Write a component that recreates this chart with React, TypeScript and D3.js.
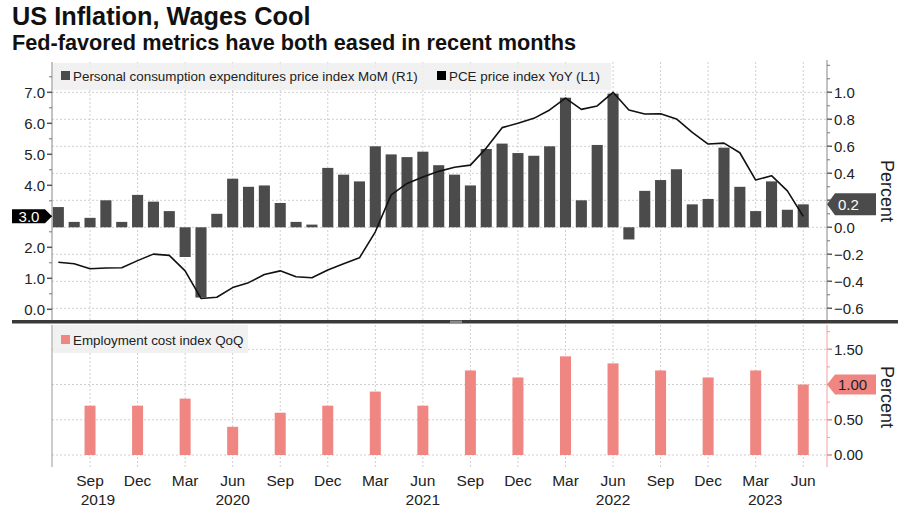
import * as d3 from 'd3';

// monthly categories, Jul 2019 .. Jun 2023
const months = d3
  .timeMonth.range(new Date(2019, 6, 1), new Date(2023, 6, 1))
  .map((d) => d3.timeFormat('%b %Y')(d));

// PCE price index MoM, % (right axis)
const pceMoM = [
  0.15, 0.04, 0.07, 0.2, 0.04, 0.24,
  0.19, 0.12, -0.22, -0.52, 0.1, 0.36, 0.3, 0.31, 0.18, 0.04, 0.02, 0.44,
  0.39, 0.34, 0.6, 0.54, 0.52, 0.56, 0.46, 0.39, 0.31, 0.58, 0.62, 0.55,
  0.53, 0.6, 0.96, 0.2, 0.61, 0.99, -0.09, 0.27, 0.35, 0.43, 0.17, 0.21,
  0.59, 0.3, 0.12, 0.34, 0.13, 0.17,
];

// PCE price index YoY, % (left axis)
const pceYoY = [
  1.52, 1.47, 1.31, 1.33, 1.34, 1.57,
  1.78, 1.74, 1.24, 0.35, 0.39, 0.7, 0.86, 1.12, 1.24, 1.05, 1.02, 1.27,
  1.47, 1.66, 2.5, 3.69, 4.06, 4.27, 4.45, 4.58, 4.65, 5.2, 5.86, 6.0,
  6.16, 6.43, 6.81, 6.45, 6.56, 7.0, 6.43, 6.3, 6.31, 6.14, 5.71, 5.33,
  5.36, 5.05, 4.17, 4.31, 3.82, 3.0,
];

// Employment cost index QoQ, %
const eciQuarters = [
  'Sep 2019', 'Dec 2019', 'Mar 2020', 'Jun 2020', 'Sep 2020', 'Dec 2020',
  'Mar 2021', 'Jun 2021', 'Sep 2021', 'Dec 2021', 'Mar 2022', 'Jun 2022',
  'Sep 2022', 'Dec 2022', 'Mar 2023', 'Jun 2023',
];
const eciQoQ = [0.7, 0.7, 0.8, 0.4, 0.6, 0.7, 0.9, 0.7, 1.2, 1.1, 1.4, 1.3, 1.2, 1.1, 1.2, 1.0];

// year labels sit under these month positions
const yearLabels = [
  { year: '2019', at: 2.5 },
  { year: '2020', at: 11 },
  { year: '2021', at: 23 },
  { year: '2022', at: 35 },
  { year: '2023', at: 44.6 },
];

const font = '"Liberation Sans", Arial, sans-serif';
const barGray = '#4b4b4b';
const pink = '#f08682';
const gridCol = '#cfcfcf';

export default function App() {
  const plotL = 52;
  const plotR = 827;
  const topT = 62;
  const topB = 320;
  const botT = 325;
  const botB = 467;

  const x = d3.scaleLinear().domain([-0.4, 48.5]).range([plotL, plotR]);
  const yL = d3.scaleLinear().domain([0, 7]).range([309.3, 92.3]);
  const yR = d3.scaleLinear().domain([-0.6, 1.0]).range([308.3, 92.3]);
  const yB = d3.scaleLinear().domain([0, 1.5]).range([455, 349.3]);

  const step = x(1) - x(0);
  const bw = step * 0.7;

  const quarterIdx = months
    .map((m, i) => (/^(Mar|Jun|Sep|Dec)/.test(m) ? i : -1))
    .filter((i) => i >= 0);

  const line = d3
    .line<number>()
    .x((_, i) => x(i))
    .y((d) => yL(d));

  const leftMajor = d3.range(0, 8, 1);
  const leftMinor = d3.range(0.5, 8, 1);
  const rightMajor = yR.ticks(8);
  const rightMinor = d3.range(-6, 13, 1).map((d) => d / 10);
  const botMajor = [0, 0.5, 1, 1.5];
  const botMinor = d3.range(0, 8, 1).map((d) => d * 0.25);

  const lastYoY = pceYoY[pceYoY.length - 1];
  const lastMoM = pceMoM[pceMoM.length - 1];
  const lastEci = eciQoQ[eciQoQ.length - 1];
  const yl = yL(lastYoY);
  const yr = yR(lastMoM);
  const yb = yB(lastEci);

  // tick labels hidden behind the last-value markers
  const clear = (py: number, my: number) => Math.abs(py - my) > 13;

  return (
    <div style={{ position: 'absolute', left: 0, top: 0 }}>
      <svg width={900} height={510} style={{ display: 'block', fontFamily: font }}>
        <rect width={900} height={510} fill="#fff" />

        {/* titles */}
        <text x={12} y={25} fontSize={25.3} fontWeight="bold" fill="#111">
          US Inflation, Wages Cool
        </text>
        <text x={12} y={50} fontSize={21.7} fontWeight="bold" fill="#111">
          Fed-favored metrics have both eased in recent months
        </text>

        {/* grid: top panel */}
        {rightMajor.map((t) => (
          <line key={'gh' + t} x1={plotL} x2={plotR} y1={yR(t)} y2={yR(t)}
            stroke={gridCol} strokeDasharray="2,2" />
        ))}
        {quarterIdx.map((i) => (
          <line key={'gv' + i} x1={x(i)} x2={x(i)} y1={topT} y2={topB}
            stroke={gridCol} strokeDasharray="2,2" />
        ))}
        {/* grid: bottom panel */}
        {botMajor.map((t) => (
          <line key={'bh' + t} x1={plotL} x2={plotR} y1={yB(t)} y2={yB(t)}
            stroke={gridCol} strokeDasharray="2,2" />
        ))}
        {quarterIdx.map((i) => (
          <line key={'bv' + i} x1={x(i)} x2={x(i)} y1={botT} y2={botB}
            stroke={gridCol} strokeDasharray="2,2" />
        ))}

        {/* MoM bars */}
        {pceMoM.map((v, i) => (
          <rect key={'m' + i} x={x(i) - bw / 2} width={bw}
            y={Math.min(yR(v), yR(0))} height={Math.abs(yR(v) - yR(0))} fill={barGray} />
        ))}
        {/* YoY line */}
        <path d={line(pceYoY) ?? undefined} fill="none" stroke="#111" strokeWidth={1.6}
          strokeLinejoin="round" />

        {/* ECI bars */}
        {eciQoQ.map((v, i) => {
          const xi = x(months.indexOf(eciQuarters[i]));
          return (
            <rect key={'e' + i} x={xi - 5.5} width={11} y={yB(v)} height={yB(0) - yB(v)} fill={pink} />
          );
        })}

        {/* legends */}
        <rect x={plotL + 1} y={topT + 1} width={558} height={27} fill="#eeeeee" opacity={0.85} />
        <rect x={61} y={71} width={9} height={9} fill={barGray} />
        <text x={73} y={80.5} fontSize={13.4} fill="#222">
          Personal consumption expenditures price index MoM (R1)
        </text>
        <rect x={437} y={71} width={9} height={9} fill="#000" />
        <text x={449} y={80.5} fontSize={13.4} fill="#222">
          PCE price index YoY (L1)
        </text>

        <rect x={plotL + 1} y={botT} width={195} height={28} fill="#eeeeee" opacity={0.85} />
        <rect x={61} y={335} width={9} height={9} fill={pink} />
        <text x={73} y={344.5} fontSize={13.4} fill="#222">
          Employment cost index QoQ
        </text>

        {/* left axis top */}
        <line x1={plotL} x2={plotL} y1={topT} y2={topB} stroke="#888" />
        {leftMajor.map((t) => (
          <g key={'lt' + t} transform={`translate(${plotL},${yL(t)})`}>
            <line x1={-5} x2={0} stroke="#555" strokeWidth={1.5} />
            {clear(yL(t), yl) && (
              <text x={-7} dy="0.35em" textAnchor="end" fontSize={15} fill="#222">
                {d3.format('.1f')(t)}
              </text>
            )}
          </g>
        ))}
        {leftMinor.map((t) => (
          <line key={'lm' + t} x1={plotL - 3} x2={plotL} y1={yL(t)} y2={yL(t)} stroke="#777" />
        ))}
        <path d={`M12,${yl - 7}H45L52,${yl}L45,${yl + 7}H12Z`} fill="#000" />
        <text x={29} y={yl} dy="0.36em" textAnchor="middle" fontSize={15} fill="#fff">
          {d3.format('.1f')(lastYoY)}
        </text>

        {/* right axis top */}
        <line x1={plotR} x2={plotR} y1={topT - 2} y2={topB} stroke="#888" />
        {rightMajor.map((t) => (
          <g key={'rt' + t} transform={`translate(${plotR},${yR(t)})`}>
            <line x1={0} x2={5} stroke="#555" strokeWidth={1.5} />
            {clear(yR(t), yr) && (
              <text x={7} dy="0.35em" fontSize={15} fill="#222">
                {d3.format('.1f')(t)}
              </text>
            )}
          </g>
        ))}
        {rightMinor.map((t) => (
          <line key={'rm' + t} x1={plotR} x2={plotR + 3} y1={yR(t)} y2={yR(t)} stroke="#777" />
        ))}
        <path d={`M${plotR},${yr}L${plotR + 8},${yr - 11}H876V${yr + 11}H${plotR + 8}Z`} fill={barGray} />
        <text x={plotR + 11} y={yr} dy="0.36em" fontSize={15} fill="#fff">
          {d3.format('.1f')(lastMoM)}
        </text>
        <text transform={`translate(881,191) rotate(90)`} textAnchor="middle" fontSize={18} fill="#222">
          Percent
        </text>

        {/* separator */}
        <rect x={12} y={320} width={886} height={3.5} fill="#3a3a3a" />
        <rect x={450} y={320.5} width={12} height={2.5} fill="#888" />

        {/* bottom axes */}
        <line x1={plotL} x2={plotL} y1={botT} y2={botB} stroke="#999" />
        <line x1={plotR} x2={plotR} y1={botT} y2={botB} stroke="#f0a0a0" />
        {botMajor.map((t) => (
          <g key={'bt' + t} transform={`translate(${plotR},${yB(t)})`}>
            <line x1={0} x2={5} stroke="#e88" strokeWidth={1.5} />
            {clear(yB(t), yb) && (
              <text x={7} dy="0.35em" fontSize={15} fill="#222">
                {d3.format('.2f')(t)}
              </text>
            )}
          </g>
        ))}
        {botMinor.map((t) => (
          <line key={'bm' + t} x1={plotR} x2={plotR + 3} y1={yB(t)} y2={yB(t)} stroke="#f0a0a0" />
        ))}
        <path d={`M${plotR},${yb}L${plotR + 8},${yb - 10}H876V${yb + 10}H${plotR + 8}Z`} fill={pink} />
        <text x={plotR + 11} y={yb} dy="0.36em" fontSize={15} fill="#222">
          {d3.format('.2f')(lastEci)}
        </text>
        <text transform={`translate(881,397) rotate(90)`} textAnchor="middle" fontSize={18} fill="#222">
          Percent
        </text>

        {/* x axis labels */}
        {quarterIdx.map((i) => (
          <text key={'xl' + i} x={x(i)} y={486} textAnchor="middle" fontSize={15.5} fill="#222">
            {months[i].slice(0, 3)}
          </text>
        ))}
        {yearLabels.map((d) => (
          <text key={d.year} x={x(d.at)} y={505} textAnchor="middle" fontSize={15.5} fill="#222">
            {d.year}
          </text>
        ))}
      </svg>
    </div>
  );
}
